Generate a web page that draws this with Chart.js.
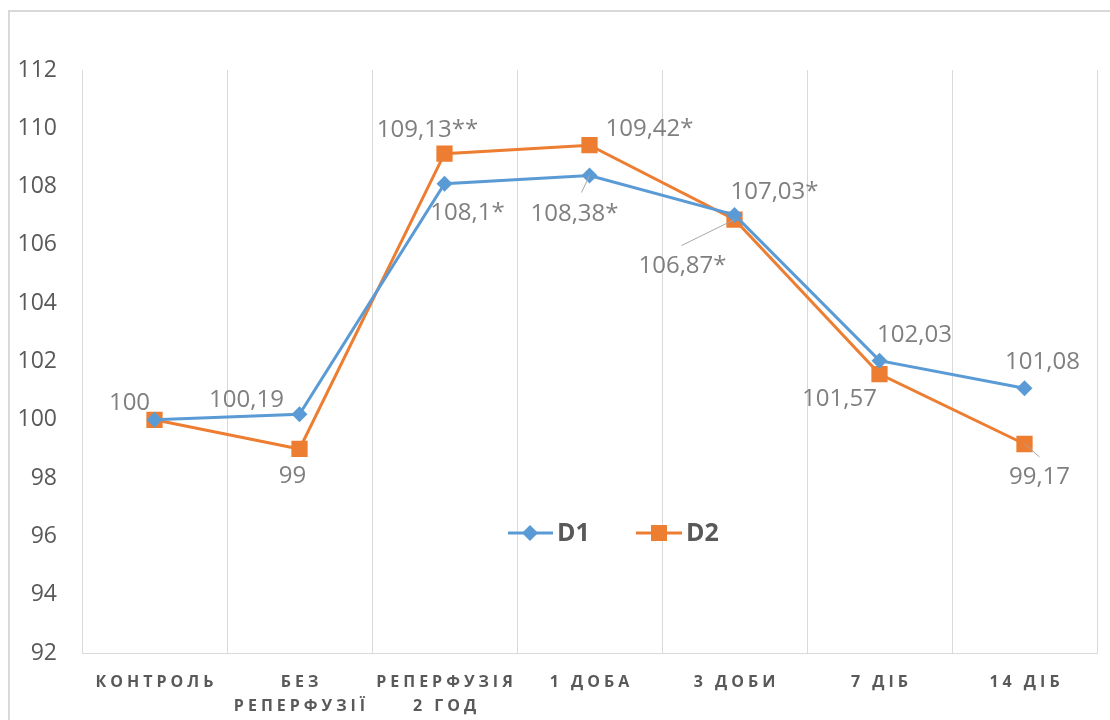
<!DOCTYPE html>
<html>
<head>
<meta charset="utf-8">
<script src="https://cdn.jsdelivr.net/npm/chart.js@4/dist/chart.umd.min.js"></script>
<style>
  body { margin: 0; background: #fff; }
  .wrap { position: relative; width: 1110px; height: 720px; overflow: hidden; }
  .frame { position: absolute; left: 8px; top: 10px; width: 1110px; height: 720px; border: 2px solid #d9d9d9; pointer-events: none; }
  canvas { display: block; }
</style>
</head>
<body>
<div class="wrap">
  <canvas id="c" width="1110" height="720"></canvas>
  <div class="frame"></div>
</div>
<script>
// data
const categories = [['КОНТРОЛЬ'], ['БЕЗ', 'РЕПЕРФУЗІЇ'], ['РЕПЕРФУЗІЯ', '2 ГОД'], ['1 ДОБА'], ['3 ДОБИ'], ['7 ДІБ'], ['14 ДІБ']]
const d1Values = [100, 100.19, 108.1, 108.38, 107.03, 102.03, 101.08]
const d2Values = [100, 99, 109.13, 109.42, 106.87, 101.57, 99.17]
const d1Labels = ['100', '100,19', '108,1*', '108,38*', '107,03*', '102,03', '101,08']
const d2Labels = ['', '99', '109,13**', '109,42*', '106,87*', '101,57', '99,17']
const yMin = 92, yMax = 112, yStep = 2

// label placement (offset of text centre from its point), leader lines
const d1Off = [[-25, -17], [-53, -14], [23, 29], [-15, 39], [40, -23], [35, -25], [18, -26]]
const d2Off = [null, [-7, 27], [-17, -24], [60, -16], [-52, 47], [-40, 25], [15, 33]]
const d1Lead = { 3: [-8, 17] }
const d2Lead = { 4: [-53, 26], 6: [15, 13] }

const BLUE = '#5b9bd5', ORANGE = '#ed7d31'
const FONT = '"Open Sans", "Noto Sans", sans-serif'

function diamond(ctx, x, y, r, color) {
  ctx.beginPath()
  ctx.moveTo(x, y - r); ctx.lineTo(x + r, y); ctx.lineTo(x, y + r); ctx.lineTo(x - r, y)
  ctx.closePath(); ctx.fillStyle = color; ctx.fill()
}
function square(ctx, x, y, h, color) {
  ctx.fillStyle = color; ctx.fillRect(x - h, y - h, 2 * h, 2 * h)
}

const extras = {
  id: 'extras',
  afterDraw(chart) {
    const ctx = chart.ctx
    const xs = chart.scales.x
    ctx.save()

    // category labels, spaced out like the original
    ctx.fillStyle = '#595959'
    ctx.font = 'bold 16px ' + FONT
    ctx.letterSpacing = '4px'
    ctx.textAlign = 'center'
    ctx.textBaseline = 'middle'
    categories.forEach((lines, i) => {
      const x = xs.getPixelForValue(i) + 2
      lines.forEach((t, j) => ctx.fillText(t, x, 682 + j * 24))
    })
    ctx.letterSpacing = '0px'

    // data labels
    const drawSet = (dsIndex, labels, offs, leads) => {
      const meta = chart.getDatasetMeta(dsIndex)
      meta.data.forEach((pt, i) => {
        if (!labels[i] || !offs[i]) return
        if (leads[i]) {
          ctx.strokeStyle = '#a6a6a6'; ctx.lineWidth = 1
          ctx.beginPath()
          ctx.moveTo(pt.x + leads[i][0], pt.y + leads[i][1]); ctx.lineTo(pt.x, pt.y)
          ctx.stroke()
        }
      })
      ctx.fillStyle = '#7f7f7f'
      ctx.font = '500 24px ' + FONT
      meta.data.forEach((pt, i) => {
        if (!labels[i] || !offs[i]) return
        ctx.fillText(labels[i], pt.x + offs[i][0], pt.y + offs[i][1])
      })
    }
    drawSet(0, d1Labels, d1Off, d1Lead)
    drawSet(1, d2Labels, d2Off, d2Lead)

    // legend inside the plot
    const ly = 533
    ctx.lineWidth = 3
    ctx.strokeStyle = BLUE
    ctx.beginPath(); ctx.moveTo(508, ly); ctx.lineTo(553, ly); ctx.stroke()
    diamond(ctx, 530, ly, 8, BLUE)
    ctx.strokeStyle = ORANGE
    ctx.beginPath(); ctx.moveTo(636, ly); ctx.lineTo(682, ly); ctx.stroke()
    square(ctx, 659, ly, 8, ORANGE)
    ctx.fillStyle = '#595959'
    ctx.font = 'bold 25px ' + FONT
    ctx.textAlign = 'left'
    ctx.fillText(chart.data.datasets[0].label, 557, ly + 1)
    ctx.fillText(chart.data.datasets[1].label, 686, ly + 1)
    ctx.restore()
  }
}

new Chart(document.getElementById('c'), {
  type: 'line',
  data: {
    labels: categories.map(c => c.join(' ')),
    datasets: [
      { label: 'D1', data: d1Values, borderColor: BLUE, backgroundColor: BLUE, borderWidth: 3,
        pointStyle: 'rectRot', pointRadius: 8, pointBorderWidth: 0, tension: 0 },
      { label: 'D2', data: d2Values, borderColor: ORANGE, backgroundColor: ORANGE, borderWidth: 3,
        pointStyle: 'rect', pointRadius: 11.5, pointBorderWidth: 0, tension: 0 }
    ]
  },
  options: {
    responsive: false, animation: false, devicePixelRatio: 1,
    layout: { padding: { top: 70, right: 13, left: 0, bottom: 0 } },
    plugins: { legend: { display: false }, tooltip: { enabled: false } },
    scales: {
      x: {
        offset: true,
        grid: { color: '#d9d9d9', drawTicks: false, offset: true },
        border: { color: '#d9d9d9' },
        ticks: { display: false },
        afterFit: s => { s.height = 67 }
      },
      y: {
        min: yMin, max: yMax,
        ticks: { stepSize: yStep, color: '#595959', font: { family: FONT, size: 23 }, padding: 25 },
        grid: { display: false, drawTicks: false },
        border: { display: false },
        afterFit: s => { s.width = 82 }
      }
    }
  },
  plugins: [extras]
})
</script>
</body>
</html>
